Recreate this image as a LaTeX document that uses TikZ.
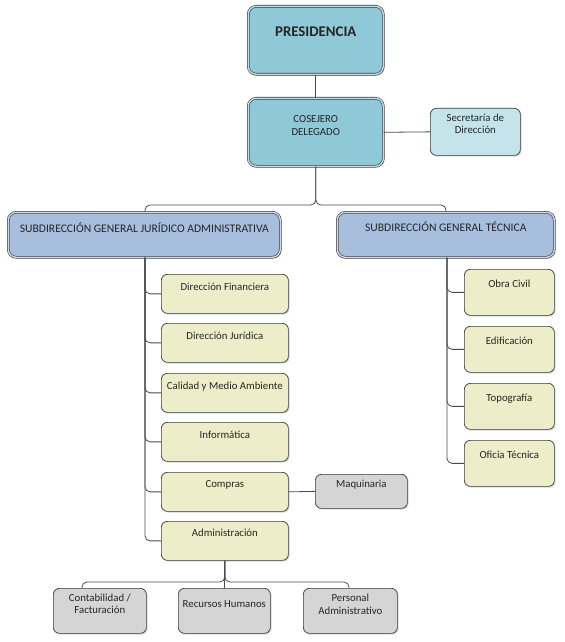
\documentclass[tikz,border=0pt]{standalone}
\usepackage{fontspec}
\setmainfont{Carlito}
\usetikzlibrary{shadows}
\definecolor{presc}{HTML}{8FC8D7}
\definecolor{presd}{HTML}{BCE0EA}
\definecolor{secc}{HTML}{C4E3EB}
\definecolor{subc}{HTML}{A8BEDD}
\definecolor{subd}{HTML}{CAD7EC}
\definecolor{yelc}{HTML}{EEEDCA}
\definecolor{grayc}{HTML}{D5D5D5}
\definecolor{bordc}{HTML}{3A3A3A}
\definecolor{linec}{HTML}{4A4A4A}
\tikzset{
  conn/.style={draw=linec, line width=0.8bp, rounded corners=5bp},
  bx/.style={rectangle, rounded corners=7bp, draw=bordc, line width=0.7bp, inner sep=0pt, anchor=north west,
    drop shadow={opacity=0.3, shadow xshift=1.3bp, shadow yshift=-1.3bp}},
  dbl/.style={double=#1, double distance=1.4bp, line width=0.6bp},
  txt/.style={font=\fontsize{10.8bp}{12.3bp}\selectfont, align=center, inner sep=0pt, anchor=base, text=black!85},
  subtxt/.style={txt, font=\fontsize{11.6bp}{13bp}\selectfont},
  ybox/.style={bx, fill=yelc, rounded corners=6bp},
  gbox/.style={bx, fill=grayc, rounded corners=6bp},
}
\begin{document}
\begin{tikzpicture}[x=1bp,y=-1bp]
\useasboundingbox[fill=white] (0,0) rectangle (565,642);
% top boxes
\node[bx, dbl=presd, fill=presc, rounded corners=8bp, minimum width=135bp, minimum height=68bp,
  label={[txt, yshift=-31bp, font=\fontsize{14.8bp}{16bp}\selectfont\bfseries]north:PRESIDENCIA}] (pres) at (248,6) {};
\node[bx, dbl=presd, fill=presc, rounded corners=8bp, minimum width=135bp, minimum height=68bp,
  label={[txt, yshift=-37bp]north:COSEJERO\\DELEGADO}] (cons) at (248,98) {};
\node[bx, fill=secc, rounded corners=6bp, minimum width=90bp, minimum height=47bp,
  label={[txt, yshift=-26bp]north:Secretaría de\\Dirección}] (sec) at (430,108) {};
% subdirecciones
\node[bx, dbl=subd, fill=subc, rounded corners=8bp, minimum width=272bp, minimum height=45bp,
  label={[subtxt, yshift=-20bp]north:SUBDIRECCIÓN GENERAL JURÍDICO ADMINISTRATIVA}] (sja) at (8,212) {};
\node[bx, dbl=subd, fill=subc, rounded corners=8bp, minimum width=217bp, minimum height=45bp,
  label={[subtxt, yshift=-19bp]north:SUBDIRECCIÓN GENERAL TÉCNICA}] (sgt) at (337,212) {};
% left children
\node[ybox, minimum width=127bp, minimum height=39bp, label={[txt, yshift=-16bp]north:Dirección Financiera}] (df) at (161,274) {};
\node[ybox, minimum width=127bp, minimum height=39bp, label={[txt, yshift=-16bp]north:Dirección Jurídica}] (dj) at (161,323) {};
\node[ybox, minimum width=127bp, minimum height=39bp, label={[txt, yshift=-16bp]north:Calidad y Medio Ambiente}] (cal) at (161,373) {};
\node[ybox, minimum width=127bp, minimum height=39bp, label={[txt, yshift=-16bp]north:Informática}] (inf) at (161,422) {};
\node[ybox, minimum width=127bp, minimum height=39bp, label={[txt, yshift=-15bp]north:Compras}] (com) at (161,472) {};
\node[ybox, minimum width=127bp, minimum height=39bp, label={[txt, yshift=-15bp]north:Administración}] (adm) at (161,521) {};
\node[gbox, minimum width=92bp, minimum height=34bp, label={[txt, yshift=-13bp]north:Maquinaria}] (maq) at (315,474) {};
% right children
\node[ybox, minimum width=90bp, minimum height=46bp, label={[txt, yshift=-18bp]north:Obra Civil}] (oc) at (464,269) {};
\node[ybox, minimum width=90bp, minimum height=46bp, label={[txt, yshift=-18bp]north:Edificación}] (edi) at (464,326) {};
\node[ybox, minimum width=90bp, minimum height=46bp, label={[txt, yshift=-18bp]north:Topografía}] (top) at (464,383) {};
\node[ybox, minimum width=90bp, minimum height=46bp, label={[txt, yshift=-18bp]north:Oficia Técnica}] (oft) at (464,440) {};
% bottom
\node[gbox, minimum width=93bp, minimum height=45bp, label={[txt, yshift=-25.5bp]north:Contabilidad /\\Facturación}] (cont) at (53,588) {};
\node[gbox, minimum width=92bp, minimum height=45bp, label={[txt, yshift=-19bp]north:Recursos Humanos}] (rh) at (178,588) {};
\node[gbox, minimum width=94bp, minimum height=45bp, label={[txt, yshift=-26bp]north:Personal\\Administrativo}] (pers) at (303,588) {};
% coordinates
\coordinate (sjaT) at ([xshift=137bp]sja.north west);
\coordinate (sgtT) at ([xshift=109bp]sgt.north west);
\coordinate (sjaB) at ([xshift=137bp]sja.south west);
\coordinate (sgtB) at ([xshift=110bp]sgt.south west);
\coordinate (contT) at ([xshift=29bp]cont.north west);
\coordinate (persT) at ([xshift=46bp]pers.north west);
% connectors
\draw[conn] (pres.south) -- (cons.north);
\draw[conn] (cons.east) -- (sec.west);
\draw[conn] (cons.south) |- ([yshift=7bp]sjaT) -- (sjaT);
\draw[conn] (cons.south) |- ([yshift=7bp]sgtT) -- (sgtT);
\foreach \n in {df,dj,cal,inf,com,adm} \draw[conn] (sjaB) |- (\n.west);
\foreach \n in {oc,edi,top,oft} \draw[conn] (sgtB) |- (\n.west);
\draw[conn] (com.east) -- (maq.west);
\draw[conn] (adm.south) -- (rh.north);
\draw[conn] (adm.south) |- ([yshift=6bp]contT) -- (contT);
\draw[conn] (adm.south) |- ([yshift=6bp]persT) -- (persT);
\end{tikzpicture}
\end{document}
